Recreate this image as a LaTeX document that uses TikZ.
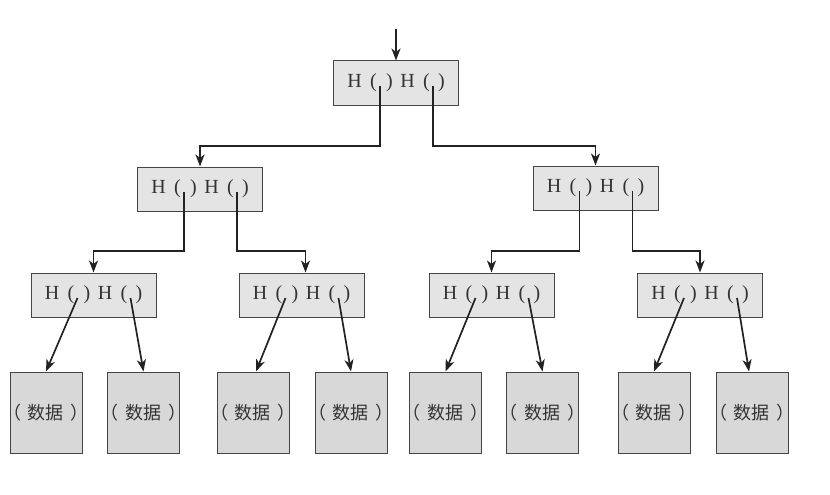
\documentclass[tikz,border=0pt]{standalone}
\usepackage{fontspec}
\setmainfont{Liberation Serif}
\newfontfamily\cjk{Noto Sans CJK SC}
\usetikzlibrary{arrows.meta}
\definecolor{edgec}{HTML}{222222}
\definecolor{boxline}{HTML}{444444}
\definecolor{hfill}{HTML}{E4E4E4}
\definecolor{dfill}{HTML}{D8D8D8}
\definecolor{txt}{HTML}{333333}
\newcommand{\hhtext}{\hspace*{21pt}\makebox[0pt]{H}\hspace*{19pt}\makebox[0pt]{(}\hspace*{16pt}\makebox[0pt]{)}\hspace*{18pt}\makebox[0pt]{H}\hspace*{19pt}\makebox[0pt]{(}\hspace*{15pt}\makebox[0pt]{)}\hspace*{17pt}}
\newcommand{\datatext}{\makebox[0pt][r]{（}\hspace*{7pt}数据\hspace*{7pt}\makebox[0pt][l]{）}}
\tikzset{
  hbox/.style={draw=boxline, line width=1pt, fill=hfill, rectangle, inner sep=0pt,
    minimum width=125pt, minimum height=44pt, text=txt, font=\fontsize{20}{20}\selectfont},
  dbox/.style={draw=boxline, line width=1pt, fill=dfill, rectangle, inner sep=0pt,
    minimum width=72pt, minimum height=81pt, text=txt, font=\cjk\fontsize{18}{18}\selectfont},
  arr/.style={draw=edgec, line width=1.7pt, -{Stealth[length=12pt,width=9pt,inset=3.5pt]}},
}
\newcommand{\ptrs}[1]{%
  \coordinate (#1a) at ([xshift=47pt,yshift=-3pt]#1.west);
  \coordinate (#1b) at ([xshift=100pt,yshift=-3pt]#1.west);}
\begin{document}
\begin{tikzpicture}[x=1pt,y=-1pt]
\useasboundingbox (0,0) rectangle (830,495);
% level 1
\node[hbox] (r) at (396,83) {\hhtext};
\coordinate (in) at (396,29);
\ptrs{r}
% level 2
\node[hbox] (L) at (200,189) {\hhtext};
\node[hbox] (R) at (595.5,188) {\hhtext};
\ptrs{L}\ptrs{R}
% level 3
\node[hbox] (LL) at (93.5,295) {\hhtext};
\node[hbox] (LR) at (301.5,295) {\hhtext};
\node[hbox] (RL) at (491.5,295) {\hhtext};
\node[hbox] (RR) at (700,295) {\hhtext};
\ptrs{LL}\ptrs{LR}\ptrs{RL}\ptrs{RR}
% data
\node[dbox] (d1) at (46,412.5) {\datatext};
\node[dbox] (d2) at (143.5,412.5) {\datatext};
\node[dbox] (d3) at (253,412.5) {\datatext};
\node[dbox] (d4) at (351,412.5) {\datatext};
\node[dbox] (d5) at (445.5,412.5) {\datatext};
\node[dbox] (d6) at (542.5,412.5) {\datatext};
\node[dbox] (d7) at (654,412.5) {\datatext};
\node[dbox] (d8) at (752,412.5) {\datatext};
% edges
\draw[arr] (in) -- (r.north);
\draw[arr] (ra) -- (ra |- 0,146) -- (L.north |- 0,146) -- (L.north);
\draw[arr] (rb) -- (rb |- 0,146) -- (R.north |- 0,146) -- (R.north);
\draw[arr] (La) -- (La |- 0,251) -- (LL.north |- 0,251) -- (LL.north);
\draw[arr] (Lb) -- (Lb |- 0,251) -- ([xshift=4pt]LR.north |- 0,251) -- ([xshift=4pt]LR.north);
\draw[arr] (Ra) -- (Ra |- 0,251) -- (RL.north |- 0,251) -- (RL.north);
\draw[arr] (Rb) -- (Rb |- 0,251) -- (RR.north |- 0,251) -- (RR.north);
\draw[arr] (LLa) -- (d1.north);
\draw[arr] (LLb) -- (d2.north);
\draw[arr] (LRa) -- ([xshift=3pt]d3.north);
\draw[arr] (LRb) -- (d4.north);
\draw[arr] (RLa) -- (d5.north);
\draw[arr] (RLb) -- (d6.north);
\draw[arr] (RRa) -- (d7.north);
\draw[arr] (RRb) -- ([xshift=-3pt]d8.north);
\end{tikzpicture}
\end{document}
